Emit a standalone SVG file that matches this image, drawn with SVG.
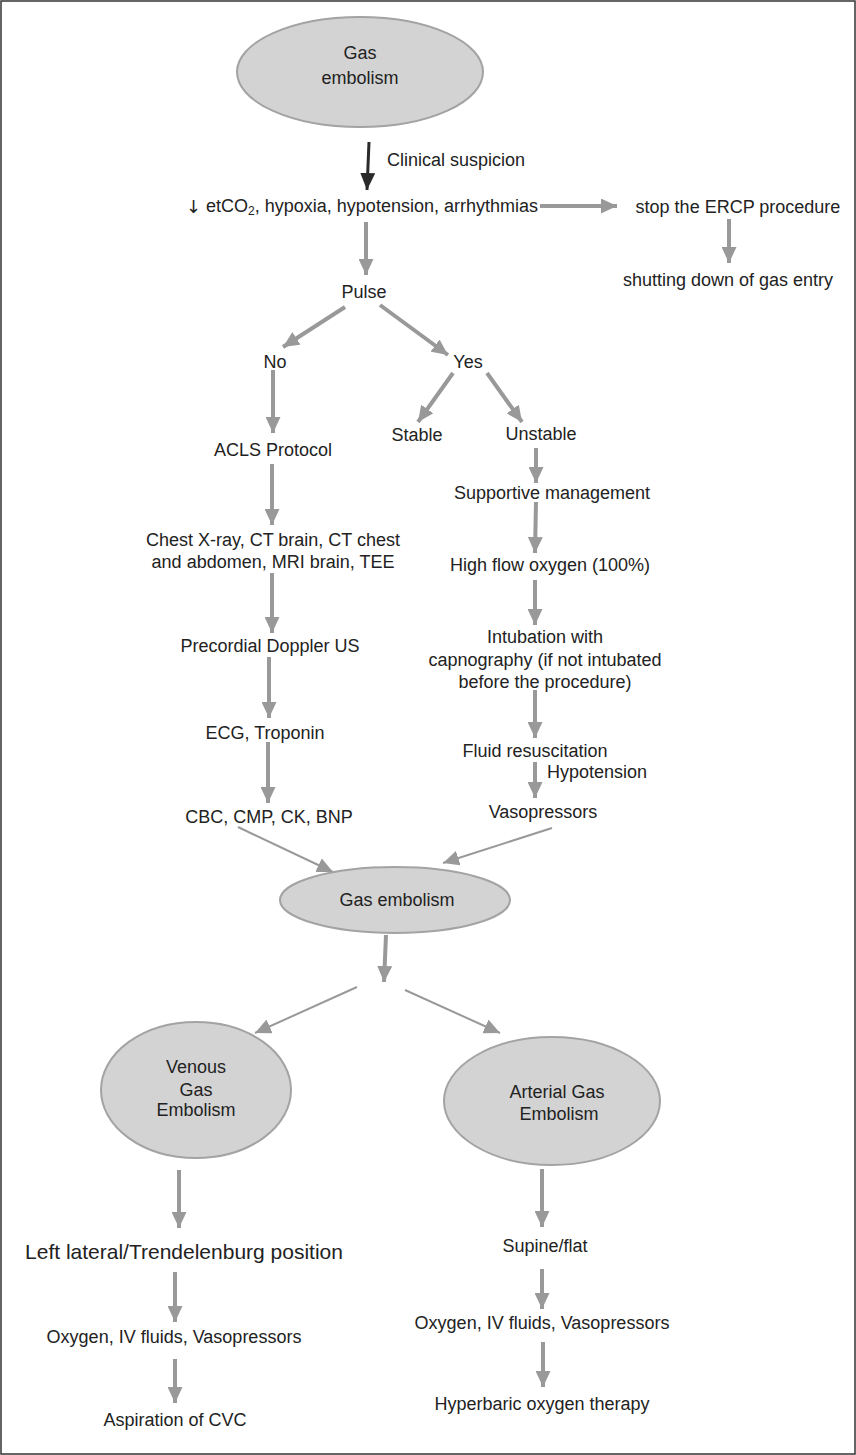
<svg xmlns="http://www.w3.org/2000/svg" width="856" height="1455" viewBox="0 0 856 1455">
<style>
text{font-family:"Liberation Sans",Arial,sans-serif;font-size:18px;fill:#222;text-anchor:middle;dominant-baseline:central}
.l{text-anchor:start}
.node ellipse{fill:#d3d3d3;stroke:#a3a3a3;stroke-width:2}
.c{stroke:#999;fill:none;stroke-width:4}
.t{stroke:#999;fill:none;stroke-width:2}
.k{stroke:#2a2a2a;fill:none;stroke-width:3}
</style>
<defs>
<marker id="a" markerUnits="userSpaceOnUse" markerWidth="16" markerHeight="15" refX="16" refY="7.5" orient="auto"><path d="M0,0 L16,7.5 L0,15 z" fill="#999"/></marker>
<marker id="b" markerUnits="userSpaceOnUse" markerWidth="17" markerHeight="15" refX="17" refY="7.5" orient="auto"><path d="M0,0 L17,7.5 L0,15 z" fill="#2a2a2a"/></marker>
</defs>
<rect x="1" y="1" width="854" height="1453" fill="#fff" stroke="#333" stroke-width="1.5"/>
<g id="connectors">
<line class="k" x1="369" y1="142" x2="367" y2="190" marker-end="url(#b)"/>
<line class="c" x1="540" y1="206" x2="617" y2="206" marker-end="url(#a)"/>
<line class="c" x1="729" y1="219" x2="729" y2="263" marker-end="url(#a)"/>
<line class="c" x1="366" y1="222" x2="366" y2="275" marker-end="url(#a)"/>
<line class="c" x1="345" y1="307" x2="283" y2="347" marker-end="url(#a)"/>
<line class="c" x1="380" y1="305" x2="448" y2="355" marker-end="url(#a)"/>
<line class="c" x1="273" y1="370" x2="273" y2="433" marker-end="url(#a)"/>
<line class="c" x1="453" y1="373" x2="418" y2="422" marker-end="url(#a)"/>
<line class="c" x1="487" y1="373" x2="522" y2="422" marker-end="url(#a)"/>
<line class="c" x1="272" y1="464" x2="272" y2="525" marker-end="url(#a)" stroke-width="5"/>
<line class="c" x1="272" y1="573" x2="272" y2="633" marker-end="url(#a)"/>
<line class="c" x1="269" y1="657" x2="269" y2="718" marker-end="url(#a)"/>
<line class="c" x1="268" y1="742" x2="268" y2="803" marker-end="url(#a)" stroke-width="5"/>
<line class="c" x1="536" y1="448" x2="536" y2="483" marker-end="url(#a)"/>
<line class="c" x1="536" y1="502" x2="535" y2="553" marker-end="url(#a)" stroke-width="3"/>
<line class="c" x1="535" y1="580" x2="535" y2="625" marker-end="url(#a)" stroke-width="3"/>
<line class="c" x1="535" y1="690" x2="535" y2="738" marker-end="url(#a)"/>
<line class="c" x1="535" y1="762" x2="535" y2="798" marker-end="url(#a)"/>
<line class="t" x1="238" y1="827" x2="333" y2="872" marker-end="url(#a)"/>
<line class="t" x1="552" y1="828" x2="443" y2="863" marker-end="url(#a)"/>
<line class="c" x1="386" y1="935" x2="384" y2="982" marker-end="url(#a)" stroke-width="3"/>
<line class="t" x1="357" y1="987" x2="255" y2="1033" marker-end="url(#a)"/>
<line class="t" x1="405" y1="990" x2="500" y2="1033" marker-end="url(#a)"/>
<line class="c" x1="179" y1="1170" x2="179" y2="1228" marker-end="url(#a)" stroke-width="3"/>
<line class="c" x1="175" y1="1272" x2="175" y2="1322" marker-end="url(#a)" stroke-width="3"/>
<line class="c" x1="175" y1="1359" x2="175" y2="1403" marker-end="url(#a)"/>
<line class="c" x1="542" y1="1169" x2="542" y2="1227" marker-end="url(#a)" stroke-width="3"/>
<line class="c" x1="542" y1="1269" x2="542" y2="1309" marker-end="url(#a)" stroke-width="3"/>
<line class="c" x1="543" y1="1342" x2="543" y2="1387" marker-end="url(#a)"/>
</g>
<g id="n-gas-top" class="node"><ellipse cx="360" cy="72" rx="123" ry="55"/><text x="360" y="53">Gas</text><text x="360" y="78">embolism</text></g>
<g id="lbl-clinical"><text class="l" x="387" y="160">Clinical suspicion</text></g>
<g id="n-signs"><text class="l" x="186" y="206"><tspan font-family="'DejaVu Sans',sans-serif" font-size="18">↓</tspan> etCO<tspan font-size="12" dy="5">2</tspan><tspan dy="-5">, hypoxia, hypotension, arrhythmias</tspan></text></g>
<g id="n-stop"><text x="738" y="207">stop the ERCP procedure</text></g>
<g id="n-shut"><text x="728" y="280">shutting down of gas entry</text></g>
<g id="n-pulse"><text x="364" y="292">Pulse</text></g>
<g id="n-no"><text x="275" y="362">No</text></g>
<g id="n-yes"><text x="468" y="362">Yes</text></g>
<g id="n-stable"><text x="417" y="435">Stable</text></g>
<g id="n-unstable"><text x="541" y="434">Unstable</text></g>
<g id="n-acls"><text x="273" y="450">ACLS Protocol</text></g>
<g id="n-imaging"><text x="273" y="540">Chest X-ray, CT brain, CT chest</text><text x="273" y="562">and abdomen, MRI brain, TEE</text></g>
<g id="n-doppler"><text x="270" y="646">Precordial Doppler US</text></g>
<g id="n-ecg"><text x="265" y="733">ECG, Troponin</text></g>
<g id="n-cbc"><text x="269" y="817">CBC, CMP, CK, BNP</text></g>
<g id="n-supportive"><text x="552" y="493">Supportive management</text></g>
<g id="n-oxygen"><text x="550" y="565">High flow oxygen (100%)</text></g>
<g id="n-intubation"><text x="545" y="637">Intubation with</text><text x="545" y="660">capnography (if not intubated</text><text x="545" y="682">before the procedure)</text></g>
<g id="n-fluid"><text x="535" y="751">Fluid resuscitation</text></g>
<g id="lbl-hypotension"><text class="l" x="547" y="772">Hypotension</text></g>
<g id="n-vaso"><text x="543" y="812">Vasopressors</text></g>
<g id="n-gas-mid" class="node"><ellipse cx="395" cy="900" rx="115" ry="33"/><text x="397" y="900">Gas embolism</text></g>
<g id="n-venous" class="node"><ellipse cx="196" cy="1090" rx="95" ry="68"/><text x="196" y="1067">Venous</text><text x="196" y="1090">Gas</text><text x="196" y="1110">Embolism</text></g>
<g id="n-arterial" class="node"><ellipse cx="552" cy="1101" rx="108" ry="64"/><text x="557" y="1092">Arterial Gas</text><text x="559" y="1114">Embolism</text></g>
<g id="n-left-lateral"><text x="184" y="1251" style="font-size:21px">Left lateral/Trendelenburg position</text></g>
<g id="n-v-oxygen"><text x="174" y="1337">Oxygen, IV fluids, Vasopressors</text></g>
<g id="n-aspiration"><text x="175" y="1420">Aspiration of CVC</text></g>
<g id="n-supine"><text x="545" y="1246">Supine/flat</text></g>
<g id="n-a-oxygen"><text x="542" y="1323">Oxygen, IV fluids, Vasopressors</text></g>
<g id="n-hyperbaric"><text x="542" y="1404">Hyperbaric oxygen therapy</text></g>
</svg>
